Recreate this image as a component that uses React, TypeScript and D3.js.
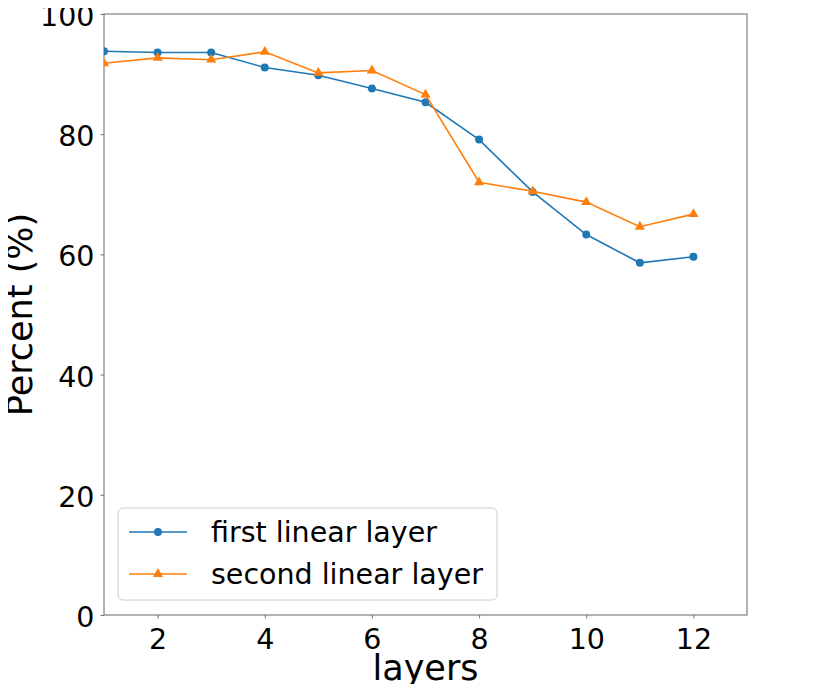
import React, { useEffect, useRef } from 'react';
import * as d3 from 'd3';

const layers = [1, 2, 3, 4, 5, 6, 7, 8, 9, 10, 11, 12];
const firstLinear = [93.8, 93.6, 93.6, 91.1, 89.8, 87.6, 85.3, 79.1, 70.4, 63.3, 58.6, 59.6];
const secondLinear = [91.8, 92.7, 92.4, 93.7, 90.2, 90.6, 86.6, 72.0, 70.5, 68.7, 64.6, 66.7];
const xTicks = [2, 4, 6, 8, 10, 12];
const yTicks = [0, 20, 40, 60, 80, 100];
const seriesNames = ['first linear layer', 'second linear layer'];

const FONT = 'DejaVu Sans, sans-serif';

const App: React.FC = () => {
    const ref = useRef<SVGSVGElement>(null);

    useEffect(() => {
        if (!ref.current) return;
        const svg = d3.select(ref.current);
        svg.selectAll('*').remove();

        const margin = { top: 14, right: 83, bottom: 77, left: 104 };
        const width = 830 - margin.left - margin.right;
        const height = 692 - margin.top - margin.bottom;

        const x = d3.scaleLinear().domain([1, 13]).range([0, width]);
        const y = d3.scaleLinear().domain([0, 100]).range([height, 0]);

        const g = svg.append('g').attr('transform', `translate(${margin.left},${margin.top})`);

        svg.append('defs').append('clipPath').attr('id', 'plot-clip')
            .append('rect').attr('width', width).attr('height', height);

        // axes
        const xAxis = g.append('g').attr('transform', `translate(0,${height})`)
            .call(d3.axisBottom(x).tickValues(xTicks).tickSize(3.5).tickPadding(6).tickFormat(d3.format('d')));
        const yAxis = g.append('g')
            .call(d3.axisLeft(y).tickValues(yTicks).tickSize(3.5).tickPadding(6).tickFormat(d3.format('d')));
        [xAxis, yAxis].forEach(a => {
            a.select('.domain').remove();
            a.selectAll('line').attr('stroke', '#555').attr('stroke-width', 0.8);
            a.selectAll('text').attr('font-family', FONT).attr('font-size', 28.5).attr('fill', '#000');
        });
        xAxis.selectAll('text').attr('dy', '0.85em');
        yAxis.selectAll('text').attr('dy', '0.4em');

        g.append('rect').attr('width', width).attr('height', height)
            .attr('fill', 'none').attr('stroke', '#666').attr('stroke-width', 1);

        const series = [
            { values: firstLinear, color: '#1f77b4', marker: d3.symbolCircle },
            { values: secondLinear, color: '#ff7f0e', marker: d3.symbolTriangle },
        ];

        const plot = g.append('g').attr('clip-path', 'url(#plot-clip)');
        const line = d3.line<number>().x((_, i) => x(layers[i])).y(d => y(d));

        series.forEach(s => {
            plot.append('path').datum(s.values)
                .attr('fill', 'none').attr('stroke', s.color).attr('stroke-width', 1.6)
                .attr('d', line);
            plot.selectAll(null).data(s.values).enter().append('path')
                .attr('transform', (d, i) => `translate(${x(layers[i])},${y(d)})`)
                .attr('d', d3.symbol().type(s.marker).size(s.marker === d3.symbolCircle ? 50 : 45)())
                .attr('fill', s.color);
        });

        // axis labels
        g.append('text').attr('x', width / 2).attr('y', height + 65)
            .attr('text-anchor', 'middle').attr('font-family', FONT).attr('font-size', 35)
            .text('layers');
        g.append('text').attr('transform', `translate(${-72},${height / 2}) rotate(-90)`)
            .attr('text-anchor', 'middle').attr('font-family', FONT).attr('font-size', 35)
            .text('Percent (%)');

        // legend
        const legend = g.append('g').attr('transform', 'translate(14,494)');
        legend.append('rect').attr('width', 379).attr('height', 92).attr('rx', 5)
            .attr('fill', '#fff').attr('fill-opacity', 0.8).attr('stroke', '#ccc');
        series.forEach((s, i) => {
            const row = legend.append('g').attr('transform', `translate(0,${24 + i * 42})`);
            row.append('line').attr('x1', 11).attr('x2', 69).attr('stroke', s.color).attr('stroke-width', 1.6);
            row.append('path').attr('transform', 'translate(40,0)')
                .attr('d', d3.symbol().type(s.marker).size(s.marker === d3.symbolCircle ? 50 : 45)())
                .attr('fill', s.color);
            row.append('text').attr('x', 93).attr('dy', '0.35em')
                .attr('font-family', FONT).attr('font-size', 28.5).text(seriesNames[i]);
        });
    }, []);

    return <svg ref={ref} width={830} height={692} style={{ display: 'block', margin: -8 }} />;
};

export default App;
